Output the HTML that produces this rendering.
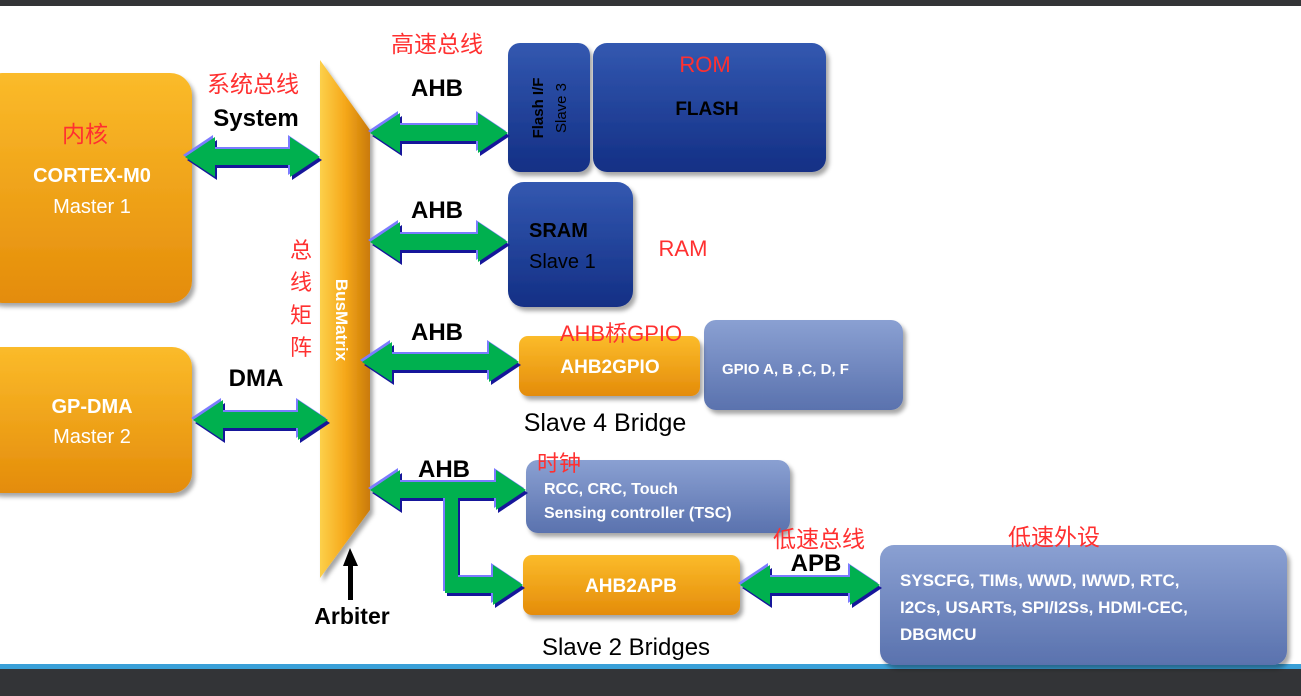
<!DOCTYPE html>
<html><head><meta charset="utf-8"><style>
html,body{margin:0;padding:0;background:#fff;}
svg{display:block;}
text{font-family:"Liberation Sans","Noto Sans CJK SC",sans-serif;}
</style></head><body>
<svg width="1301" height="696" viewBox="0 0 1301 696" xmlns="http://www.w3.org/2000/svg">
<defs>
<linearGradient id="or" x1="0" y1="0" x2="0" y2="1"><stop offset="0" stop-color="#fbbb2a"/><stop offset="1" stop-color="#e48c0a"/></linearGradient>
<linearGradient id="orh" x1="0" y1="0" x2="1" y2="0"><stop offset="0" stop-color="#fcd04a"/><stop offset="0.5" stop-color="#f6a81a"/><stop offset="1" stop-color="#c97a08"/></linearGradient>
<linearGradient id="db" x1="0" y1="0" x2="0" y2="1"><stop offset="0" stop-color="#3358b0"/><stop offset="1" stop-color="#132f85"/></linearGradient>
<linearGradient id="lb" x1="0" y1="0" x2="0" y2="1"><stop offset="0" stop-color="#8aa0d2"/><stop offset="1" stop-color="#5a72ae"/></linearGradient>
<filter id="sh" x="-10%" y="-10%" width="130%" height="130%"><feDropShadow dx="3" dy="4" stdDeviation="2" flood-color="#000" flood-opacity="0.35"/></filter>
</defs>
<rect x="0" y="0" width="1301" height="6" fill="#333437"/>
<rect x="0" y="664" width="1301" height="5" fill="#3aa0d8"/>
<rect x="0" y="669" width="1301" height="27" fill="#333437"/>

<rect x="-20" y="73" width="212" height="230" rx="22" fill="url(#or)" filter="url(#sh)"/>
<text x="85" y="142" font-size="23" fill="#ff3030" text-anchor="middle">内核</text>
<text x="92" y="182" font-size="20" font-weight="bold" fill="#fff" text-anchor="middle">CORTEX-M0</text>
<text x="92" y="213" font-size="20" fill="#fff" text-anchor="middle">Master 1</text>
<rect x="-20" y="347" width="212" height="146" rx="20" fill="url(#or)" filter="url(#sh)"/>
<text x="92" y="413" font-size="20" font-weight="bold" fill="#fff" text-anchor="middle">GP-DMA</text>
<text x="92" y="443" font-size="20" fill="#fff" text-anchor="middle">Master 2</text>

<polygon points="320,60 370,130 370,510 320,578" fill="url(#orh)" filter="url(#sh)"/>
<text transform="translate(336,320) rotate(90)" font-size="17" font-weight="bold" fill="#fff" text-anchor="middle">BusMatrix</text>
<text x="301" y="258" font-size="22" fill="#ff3030" text-anchor="middle">总</text>
<text x="301" y="290" font-size="22" fill="#ff3030" text-anchor="middle">线</text>
<text x="301" y="323" font-size="22" fill="#ff3030" text-anchor="middle">矩</text>
<text x="301" y="355" font-size="22" fill="#ff3030" text-anchor="middle">阵</text>
<polygon points="350,548 343,566 348,566 348,600 353,600 353,566 358,566" fill="#000"/>
<text x="352" y="624" font-size="23" font-weight="bold" fill="#000" text-anchor="middle">Arbiter</text>

<rect x="508" y="43" width="82" height="129" rx="12" fill="url(#db)" filter="url(#sh)"/>
<text transform="translate(543,108) rotate(-90)" font-size="15" font-weight="bold" fill="#000" text-anchor="middle">Flash I/F</text>
<text transform="translate(566,108) rotate(-90)" font-size="15" fill="#000" text-anchor="middle">Slave 3</text>
<rect x="593" y="43" width="233" height="129" rx="14" fill="url(#db)" filter="url(#sh)"/>
<text x="705" y="72" font-size="22" fill="#ff3030" text-anchor="middle">ROM</text>
<text x="707" y="115" font-size="19" font-weight="bold" fill="#000" text-anchor="middle">FLASH</text>
<rect x="508" y="182" width="125" height="125" rx="16" fill="url(#db)" filter="url(#sh)"/>
<text x="529" y="237" font-size="20" font-weight="bold" fill="#000">SRAM</text>
<text x="529" y="268" font-size="20" fill="#000">Slave 1</text>
<text x="683" y="256" font-size="22" fill="#ff3030" text-anchor="middle">RAM</text>

<rect x="704" y="320" width="199" height="90" rx="12" fill="url(#lb)" filter="url(#sh)"/>
<text x="722" y="374" font-size="15" font-weight="bold" fill="#fff">GPIO A, B ,C, D, F</text>
<rect x="519" y="336" width="181" height="60" rx="9" fill="url(#or)" filter="url(#sh)"/>
<text x="610" y="373" font-size="19" font-weight="bold" fill="#fff" text-anchor="middle">AHB2GPIO</text>
<text x="621" y="341" font-size="22" fill="#ff3030" text-anchor="middle">AHB桥GPIO</text>
<text x="605" y="431" font-size="25" fill="#000" text-anchor="middle">Slave 4 Bridge</text>

<rect x="526" y="460" width="264" height="73" rx="12" fill="url(#lb)" filter="url(#sh)"/>
<text x="544" y="494" font-size="16" font-weight="bold" fill="#fff">RCC, CRC, Touch</text>
<text x="544" y="518" font-size="16" font-weight="bold" fill="#fff">Sensing controller (TSC)</text>
<text x="537" y="471" font-size="22" fill="#ff3030">时钟</text>

<rect x="523" y="555" width="217" height="60" rx="9" fill="url(#or)" filter="url(#sh)"/>
<text x="631" y="592" font-size="19" font-weight="bold" fill="#fff" text-anchor="middle">AHB2APB</text>
<text x="626" y="655" font-size="24" fill="#000" text-anchor="middle">Slave 2 Bridges</text>

<rect x="880" y="545" width="407" height="120" rx="14" fill="url(#lb)" filter="url(#sh)"/>
<text x="900" y="586" font-size="17" font-weight="bold" fill="#fff">SYSCFG, TIMs, WWD, IWWD, RTC,</text>
<text x="900" y="613" font-size="17" font-weight="bold" fill="#fff">I2Cs, USARTs, SPI/I2Ss, HDMI-CEC,</text>
<text x="900" y="640" font-size="17" font-weight="bold" fill="#fff">DBGMCU</text>

<text x="253" y="92" font-size="23" fill="#ff3030" text-anchor="middle">系统总线</text>
<text x="256" y="126" font-size="24" font-weight="bold" fill="#000" text-anchor="middle">System</text>
<text x="256" y="386" font-size="24" font-weight="bold" fill="#000" text-anchor="middle">DMA</text>
<text x="437" y="52" font-size="23" fill="#ff3030" text-anchor="middle">高速总线</text>
<text x="437" y="96" font-size="24" font-weight="bold" fill="#000" text-anchor="middle">AHB</text>
<text x="437" y="218" font-size="24" font-weight="bold" fill="#000" text-anchor="middle">AHB</text>
<text x="437" y="340" font-size="24" font-weight="bold" fill="#000" text-anchor="middle">AHB</text>
<text x="444" y="477" font-size="24" font-weight="bold" fill="#000" text-anchor="middle">AHB</text>
<text x="819" y="547" font-size="23" fill="#ff3030" text-anchor="middle">低速总线</text>
<text x="816" y="571" font-size="24" font-weight="bold" fill="#000" text-anchor="middle">APB</text>
<text x="1054" y="545" font-size="23" fill="#ff3030" text-anchor="middle">低速外设</text>

<g transform="translate(2,3)" fill="#16169a">
<polygon points="185,157 215,137 215,149 290,149 290,137 320,157 290,177 290,165 215,165 215,177"/>
<polygon points="193,420 223,400 223,412 298,412 298,400 328,420 298,440 298,428 223,428 223,440"/>
<polygon points="370,133 400,113 400,125 478,125 478,113 508,133 478,153 478,141 400,141 400,153"/>
<polygon points="370,242 400,222 400,234 478,234 478,222 508,242 478,262 478,250 400,250 400,262"/>
<polygon points="362,362 392,342 392,354 489,354 489,342 519,362 489,382 489,370 392,370 392,382"/>
<polygon points="370,490 400,470 400,482 496,482 496,470 526,490 496,510 496,498 400,498 400,510"/>
<rect x="445" y="490" width="13" height="103"/>
<polygon points="445,577 493,577 493,565 523,585 493,605 493,593 445,593"/>
<polygon points="740,585 770,565 770,577 850,577 850,565 880,585 850,605 850,593 770,593 770,605"/>
</g>
<g transform="translate(-2,-2)" fill="#7b7bff">
<polygon points="185,157 215,137 215,149 290,149 290,137 320,157 290,177 290,165 215,165 215,177"/>
<polygon points="193,420 223,400 223,412 298,412 298,400 328,420 298,440 298,428 223,428 223,440"/>
<polygon points="370,133 400,113 400,125 478,125 478,113 508,133 478,153 478,141 400,141 400,153"/>
<polygon points="370,242 400,222 400,234 478,234 478,222 508,242 478,262 478,250 400,250 400,262"/>
<polygon points="362,362 392,342 392,354 489,354 489,342 519,362 489,382 489,370 392,370 392,382"/>
<polygon points="370,490 400,470 400,482 496,482 496,470 526,490 496,510 496,498 400,498 400,510"/>
<rect x="445" y="490" width="13" height="103"/>
<polygon points="445,577 493,577 493,565 523,585 493,605 493,593 445,593"/>
<polygon points="740,585 770,565 770,577 850,577 850,565 880,585 850,605 850,593 770,593 770,605"/>
</g>
<g fill="#00b04f">
<polygon points="185,157 215,137 215,149 290,149 290,137 320,157 290,177 290,165 215,165 215,177"/>
<polygon points="193,420 223,400 223,412 298,412 298,400 328,420 298,440 298,428 223,428 223,440"/>
<polygon points="370,133 400,113 400,125 478,125 478,113 508,133 478,153 478,141 400,141 400,153"/>
<polygon points="370,242 400,222 400,234 478,234 478,222 508,242 478,262 478,250 400,250 400,262"/>
<polygon points="362,362 392,342 392,354 489,354 489,342 519,362 489,382 489,370 392,370 392,382"/>
<polygon points="370,490 400,470 400,482 496,482 496,470 526,490 496,510 496,498 400,498 400,510"/>
<rect x="445" y="490" width="13" height="103"/>
<polygon points="445,577 493,577 493,565 523,585 493,605 493,593 445,593"/>
<polygon points="740,585 770,565 770,577 850,577 850,565 880,585 850,605 850,593 770,593 770,605"/>
</g>
</svg>
</body></html>
